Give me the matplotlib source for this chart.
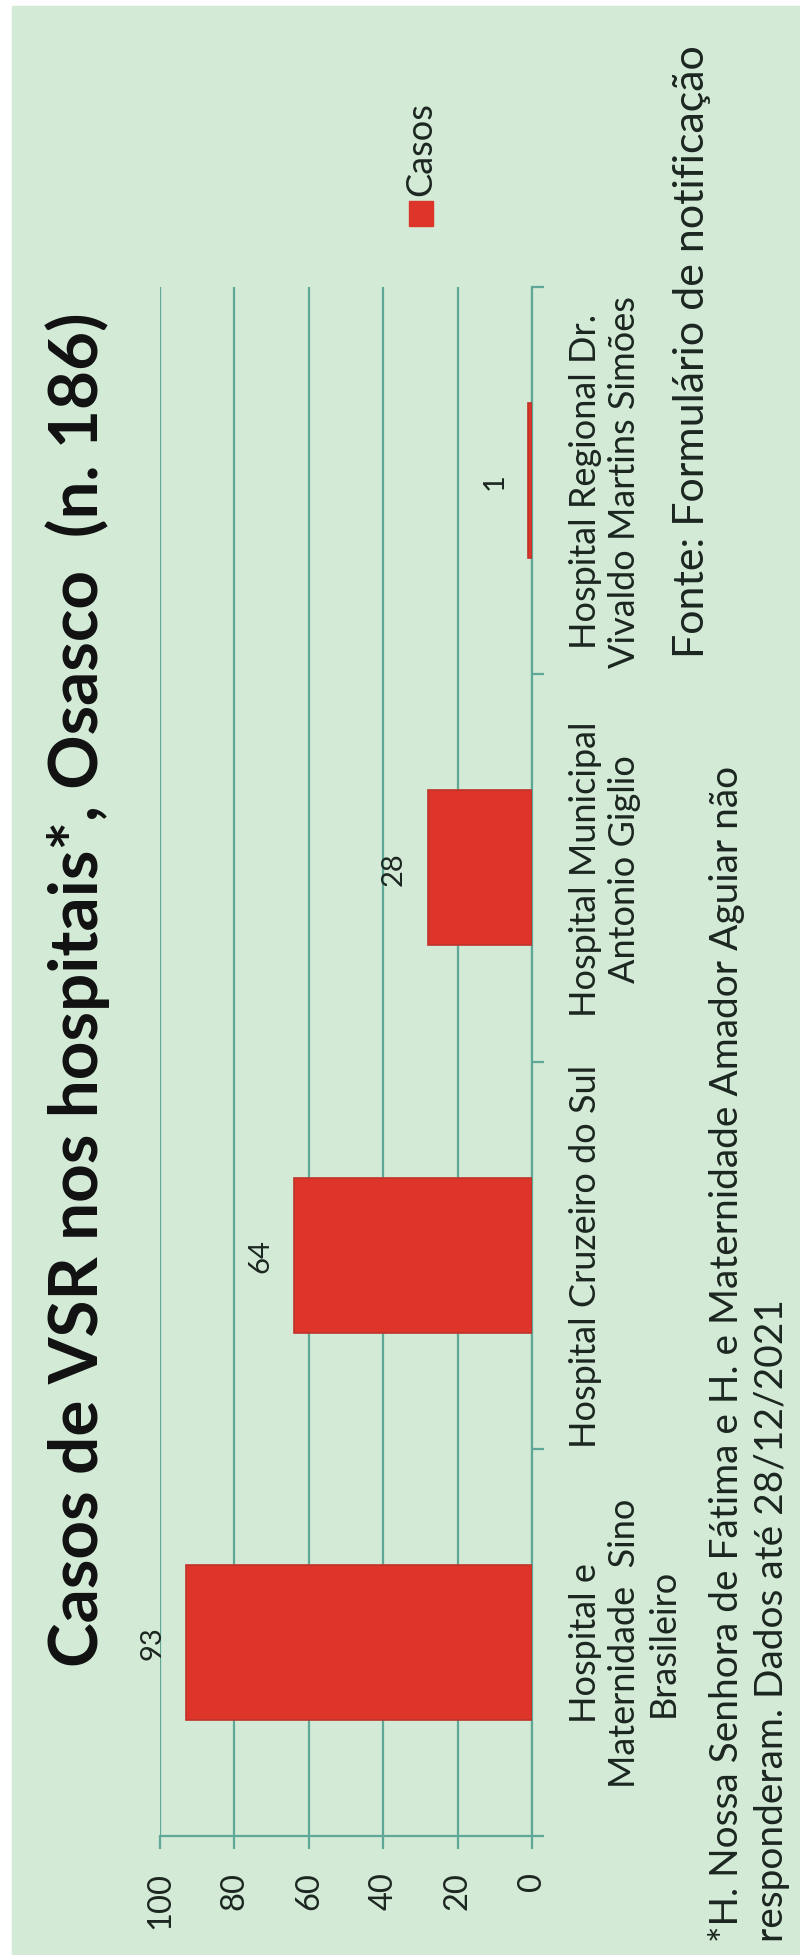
import matplotlib
matplotlib.use('Agg')
from matplotlib import pyplot as plt
from matplotlib.patches import Rectangle

plt.rcParams['font.family'] = ['Lato', 'DejaVu Sans']

# dados
categorias = ["Hospital e\nMaternidade  Sino\nBrasileiro",
              "Hospital Cruzeiro do Sul",
              "Hospital Municipal\nAntonio Giglio",
              "Hospital Regional Dr.\nVivaldo Martins Simões"]
casos = [93, 64, 28, 1]
ticks_valor = [0, 20, 40, 60, 80, 100]

titulo = "Casos de VSR nos hospitais*, Osasco  (n. 186)"
nota = ("*H. Nossa Senhora de Fátima e H. e Maternidade Amador Aguiar não\n"
        "responderam. Dados até 28/12/2021")
fonte = "Fonte: Formulário de notificação"

fundo = '#d2ead6'
grade = '#5fa898'
vermelho = '#de352b'
texto = '#1c2620'

W, H = 800, 1956
fig = plt.figure(figsize=(W / 100, H / 100), dpi=100, facecolor='white')
# fundo verde (borda branca do scan)
fig.patches.append(Rectangle((12 / W, 0), 1, 1 - 7 / H, transform=fig.transFigure,
                             color=fundo, zorder=-10))

# grafico girado: valor no eixo x (invertido), categorias no eixo y
ax = fig.add_axes([160 / W, 1 - 1837 / H, (532 - 160) / W, (1837 - 288) / H])
ax.set_facecolor('none')
barras = ax.barh(range(len(casos)), casos, height=0.40, color=vermelho,
                 edgecolor='#bf332a', linewidth=1.2, zorder=3)
ax.set_xlim(100, 0)
ax.set_ylim(-0.5, len(casos) - 0.5)

ax.xaxis.grid(True, color=grade, linewidth=1.6)
ax.set_axisbelow(True)
for s in ['top', 'left']:
    ax.spines[s].set_visible(False)
for s in ['bottom', 'right']:
    ax.spines[s].set_color(grade)
    ax.spines[s].set_linewidth(1.6)

ax.set_xticks(ticks_valor)
ax.set_xticklabels([str(v) for v in ticks_valor], rotation=90, fontsize=23.5, color=texto)
ax.tick_params(axis='x', direction='out', length=9.5, width=1.6, color=grade, pad=16)

ax.yaxis.tick_right()
ax.set_yticks(range(len(categorias)))
ax.set_yticklabels(categorias, rotation=90, ha='left', va='center',
                   multialignment='center', fontsize=26, color=texto)
ax.set_yticks([i - 0.5 for i in range(len(categorias) + 1)], minor=True)
ax.tick_params(axis='y', which='major', length=0, pad=27)
ax.tick_params(axis='y', which='minor', direction='out', length=8.5, width=1.6,
               color=grade, right=True, left=False)

ax.bar_label(barras, labels=[str(v) for v in casos], padding=15, rotation=90,
             fontsize=21, color=texto)

# titulo
fig.text(78 / W, 1 - 990 / H, titulo, rotation=90, ha='center', va='center',
         fontsize=48.5, fontweight='bold', color='#111111')

# legenda
fig.patches.append(Rectangle((409 / W, 1 - 227 / H), 24 / W, 25 / H,
                             transform=fig.transFigure, color=vermelho, zorder=5))
fig.text(421 / W, 1 - 196 / H, "Casos", rotation=90, ha='center', va='bottom',
         fontsize=26, color=texto)

# notas
fig.text(749 / W, 1 - 1942 / H, nota, rotation=90, ha='center', va='bottom',
         multialignment='left', linespacing=1.3, fontsize=28, color=texto)
fig.text(692 / W, 1 - 658 / H, fonte, rotation=90, ha='center', va='bottom',
         fontsize=31, color=texto)

plt.savefig('out.png', dpi=100, facecolor=fig.get_facecolor())
